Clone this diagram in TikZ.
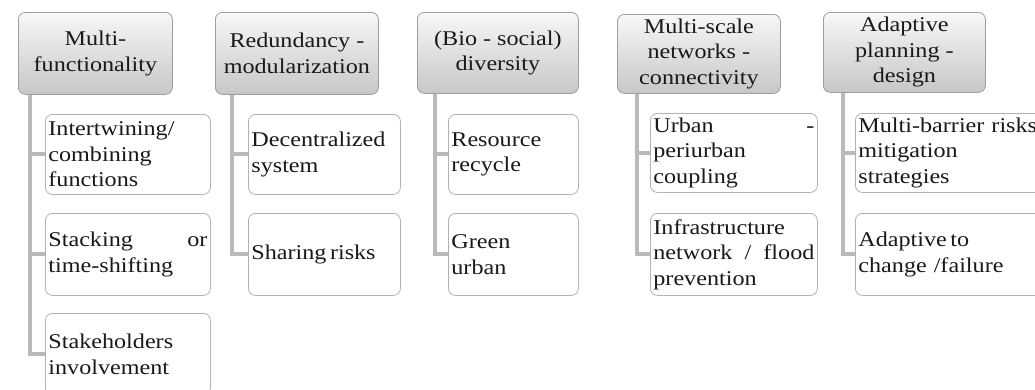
\documentclass[tikz,border=0pt]{standalone}
\usepackage{fontspec}
\setmainfont{Liberation Serif}
\newfontfamily\boxfont{Liberation Serif}[FakeStretch=1.15]
\begin{document}
\begin{tikzpicture}[x=1pt,y=-1pt,
  hdr/.style={draw=black!38, line width=0.8pt, rounded corners=7pt,
    top color=black!3, bottom color=black!22, anchor=north west,
    align=center, inner sep=2pt, text=black!90,
    font=\boxfont\fontsize{21}{25.5}\selectfont},
  leaf/.style={draw=black!30, line width=0.8pt, rounded corners=7pt,
    fill=white, anchor=north west, align=left, inner sep=2pt,
    text=black!90, font=\boxfont\fontsize{21}{25.5}\selectfont},
  conn/.style={draw=black!27, line width=4pt}]
\clip (0,0) rectangle (1035,389);
\fill[white] (0,0) rectangle (1035,389);

% column headers
\node[hdr, minimum width=154, minimum height=82] (h1) at (18,12) {Multi-\\functionality};
\node[hdr, minimum width=163, minimum height=82] (h2) at (215,12) {Redundancy -\\modularization};
\node[hdr, minimum width=161, minimum height=81] (h3) at (417,12) {(Bio - social)\\diversity};
\node[hdr, minimum width=163, minimum height=79] (h4) at (617,14) {Multi-scale\\networks -\\connectivity};
\node[hdr, minimum width=162, minimum height=80] (h5) at (823,12) {Adaptive\\planning -\\design};

% leaves, column 1
\node[leaf, minimum width=165, minimum height=80, text width=159] (c1a) at (45,114) {Intertwining/\\combining\\functions};
\node[leaf, minimum width=165, minimum height=82, text width=159] (c1b) at (45,213) {Stacking \hfill or\\time-shifting};
\node[leaf, minimum width=165, minimum height=82, text width=159] (c1c) at (45,313) {Stakeholders\\involvement};
% column 2
\node[leaf, minimum width=152, minimum height=80, text width=146] (c2a) at (248,114) {Decentralized\\system};
\node[leaf, minimum width=152, minimum height=82, text width=146] (c2b) at (248,213) {Sharing\,risks};
% column 3
\node[leaf, minimum width=130, minimum height=80, text width=124] (c3a) at (448,114) {Resource\\recycle};
\node[leaf, minimum width=130, minimum height=82, text width=124] (c3b) at (448,213) {Green\\urban};
% column 4
\node[leaf, minimum width=167, minimum height=79, text width=161] (c4a) at (650,113) {Urban \hfill -\\periurban\\coupling};
\node[leaf, minimum width=167, minimum height=82, text width=161] (c4b) at (650,213) {Infrastructure\\network \hfill / \hfill flood\\prevention};
% column 5
\node[leaf, minimum width=200, minimum height=79, text width=194] (c5a) at (855,113) {Multi-barrier risks\\mitigation\\strategies};
\node[leaf, minimum width=200, minimum height=82, text width=194] (c5b) at (855,213) {Adaptive\,to\\change /failure};

% trunks and branches
\foreach \h/\a/\b/\s in {h1/c1a/c1c/12, h1/c1b/c1b/12, h2/c2a/c2b/17, h3/c3a/c3b/18, h4/c4a/c4b/20, h5/c5a/c5b/20}{
  \draw[conn] ([xshift=\s]\h.south west) |- (\a.west);
  \draw[conn] ([xshift=\s]\h.south west) |- (\b.west);
}
\end{tikzpicture}
\end{document}
